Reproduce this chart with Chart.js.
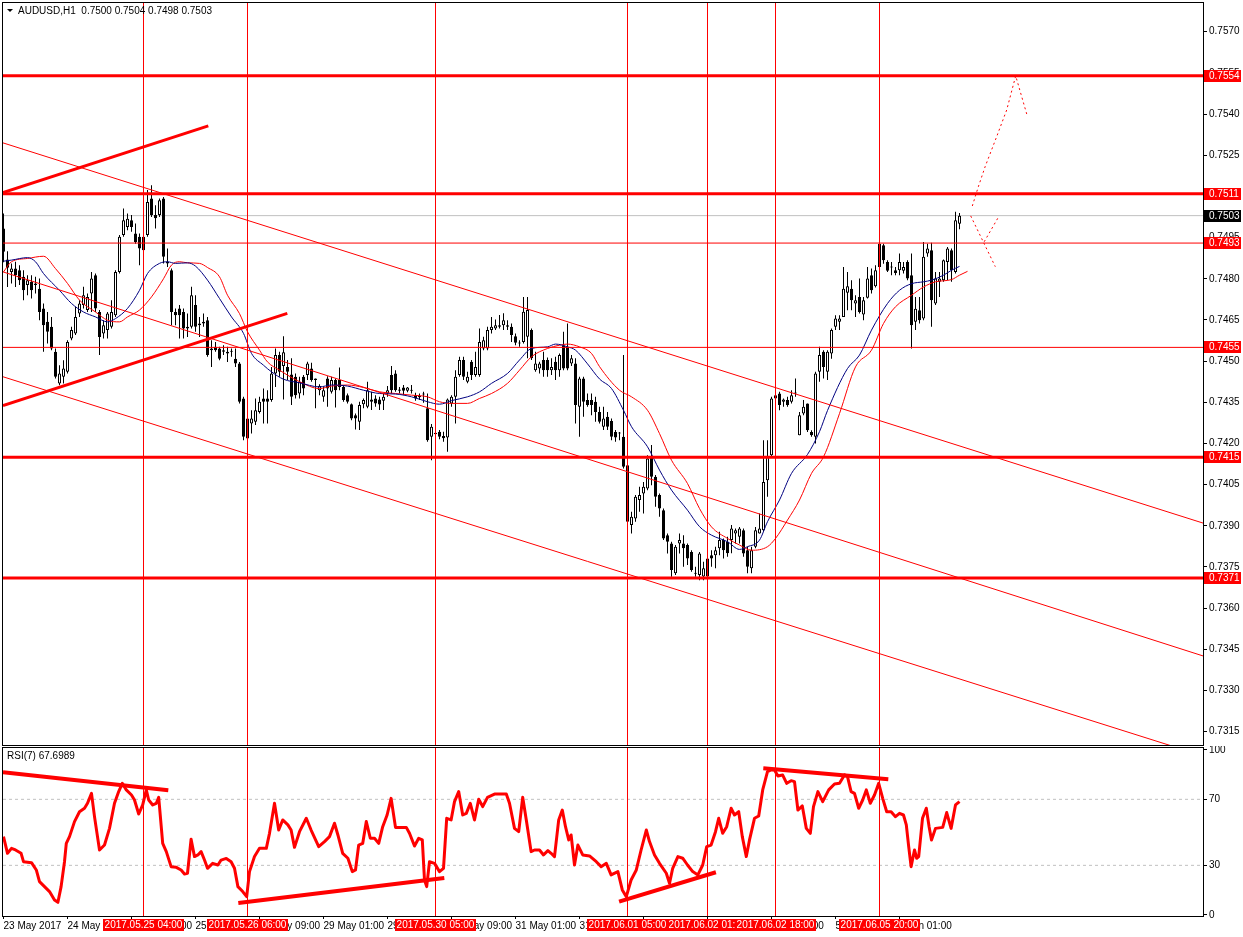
<!DOCTYPE html>
<html>
<head>
<meta charset="utf-8">
<script src="https://cdn.jsdelivr.net/npm/chart.js@4.4.1/dist/chart.umd.min.js"></script>
<style>
  body { margin: 0; background: #fff; width: 1243px; height: 937px; overflow: hidden; position: relative; }
  #mainChart { position: absolute; left: 0; top: 0; }
  #rsiChart { position: absolute; left: 0; top: 746px; }
</style>
</head>
<body>
<canvas id="mainChart" width="1243" height="746"></canvas>
<canvas id="rsiChart" width="1243" height="191"></canvas>
<script>
// AUDUSD H1 candles, bar 0 = 23 May 2017 17:00
const symbolName = 'AUDUSD,H1';
const opens = [
  0.74983,0.74870,0.74825,0.74837,0.74831,0.74807,0.74777,0.74789,0.74783,0.74764,
  0.74692,0.74643,0.74625,0.74534,0.74418,0.74443,0.74461,0.74582,0.74601,0.74673,
  0.74704,0.74686,0.74746,0.74813,0.74679,0.74601,0.74613,0.74625,0.74667,0.74825,
  0.74959,0.74989,0.75013,0.74965,0.74953,0.74953,0.74959,0.75092,0.75032,0.75032,
  0.75092,0.74862,0.74831,0.74679,0.74692,0.74679,0.74619,0.74625,0.74704,0.74637,
  0.74643,0.74649,0.74546,0.74552,0.74546,0.74540,0.74534,0.74537,0.74509,0.74491,
  0.74364,0.74291,0.74273,0.74279,0.74315,0.74364,0.74364,0.74358,0.74455,0.74522,
  0.74482,0.74479,0.74451,0.74443,0.74382,0.74443,0.74449,0.74473,0.74437,0.74394,
  0.74370,0.74437,0.74388,0.74431,0.74431,0.74406,0.74376,0.74343,0.74303,0.74279,
  0.74343,0.74334,0.74360,0.74364,0.74360,0.74356,0.74382,0.74449,0.74455,0.74397,
  0.74404,0.74392,0.74394,0.74376,0.74373,0.74378,0.74328,0.74224,0.74239,0.74243,
  0.74227,0.74222,0.74346,0.74370,0.74449,0.74504,0.74425,0.74498,0.74449,0.74449,
  0.74546,0.74546,0.74613,0.74619,0.74625,0.74631,0.74625,0.74625,0.74591,0.74566,
  0.74570,0.74589,0.74613,0.74467,0.74473,0.74504,0.74504,0.74467,0.74498,0.74467,
  0.74558,0.74552,0.74491,0.74491,0.74334,0.74437,0.74358,0.74358,0.74352,0.74315,
  0.74261,0.74297,0.74282,0.74242,0.74239,0.74224,0.74121,0.73903,0.73927,0.73994,
  0.74018,0.74036,0.74151,0.74079,0.74012,0.73957,0.73866,0.73836,0.73727,0.73836,
  0.73836,0.73830,0.73805,0.73729,0.73721,0.73715,0.73715,0.73793,0.73793,0.73818,
  0.73848,0.73842,0.73848,0.73872,0.73860,0.73884,0.73811,0.73745,0.73824,0.73872,
  0.73884,0.74066,0.74157,0.74364,0.74382,0.74352,0.74358,0.74352,0.74382,0.74230,
  0.74309,0.74346,0.74242,0.74224,0.74461,0.74534,0.74461,0.74528,0.74625,0.74643,
  0.74661,0.74749,0.74764,0.74710,0.74734,0.74670,0.74731,0.74813,0.74773,0.74843,
  0.74922,0.74861,0.74843,0.74831,0.74831,0.74829,0.74861,0.74813,0.74643,0.74685,
  0.74655,0.74892,0.74904,0.74710,0.74789,0.74795,0.74861,0.74904,0.74825,0.75000
];
const highs = [
  0.75038,0.74900,0.74856,0.74862,0.74849,0.74831,0.74813,0.74813,0.74807,0.74801,
  0.74710,0.74679,0.74661,0.74546,0.74485,0.74503,0.74576,0.74625,0.74698,0.74722,
  0.74771,0.74746,0.74825,0.74819,0.74686,0.74649,0.74679,0.74722,0.74831,0.74959,
  0.75056,0.75038,0.75032,0.75001,0.74965,0.74959,0.75123,0.75141,0.75068,0.75092,
  0.75098,0.74910,0.74837,0.74692,0.74704,0.74692,0.74673,0.74771,0.74740,0.74661,
  0.74673,0.74661,0.74576,0.74570,0.74552,0.74558,0.74552,0.74546,0.74546,0.74497,
  0.74370,0.74297,0.74321,0.74364,0.74370,0.74400,0.74394,0.74479,0.74546,0.74534,
  0.74591,0.74504,0.74510,0.74455,0.74443,0.74449,0.74498,0.74494,0.74437,0.74416,
  0.74406,0.74445,0.74443,0.74437,0.74477,0.74413,0.74382,0.74346,0.74309,0.74352,
  0.74364,0.74425,0.74388,0.74376,0.74370,0.74382,0.74409,0.74482,0.74467,0.74406,
  0.74413,0.74406,0.74413,0.74385,0.74382,0.74388,0.74382,0.74271,0.74249,0.74249,
  0.74243,0.74364,0.74376,0.74467,0.74516,0.74516,0.74461,0.74504,0.74534,0.74619,
  0.74589,0.74625,0.74661,0.74652,0.74668,0.74674,0.74649,0.74637,0.74601,0.74576,
  0.74734,0.74734,0.74619,0.74534,0.74498,0.74534,0.74513,0.74510,0.74516,0.74528,
  0.74607,0.74637,0.74522,0.74510,0.74443,0.74443,0.74382,0.74382,0.74370,0.74334,
  0.74334,0.74315,0.74291,0.74249,0.74242,0.74522,0.74127,0.73951,0.74012,0.74042,
  0.74060,0.74157,0.74194,0.74085,0.74018,0.73963,0.73872,0.73842,0.73830,0.73872,
  0.73866,0.73836,0.73811,0.73751,0.73805,0.73769,0.73787,0.73811,0.73824,0.73878,
  0.73854,0.73860,0.73903,0.73890,0.73896,0.73890,0.73824,0.73824,0.73896,0.73945,
  0.74212,0.74212,0.74370,0.74382,0.74388,0.74364,0.74370,0.74394,0.74437,0.74315,
  0.74358,0.74346,0.74248,0.74461,0.74552,0.74540,0.74540,0.74619,0.74667,0.74667,
  0.74843,0.74825,0.74795,0.74740,0.74801,0.74734,0.74843,0.74837,0.74849,0.74934,
  0.74928,0.74867,0.74861,0.74843,0.74892,0.74861,0.74867,0.74892,0.74734,0.74734,
  0.74934,0.74928,0.74931,0.74825,0.74825,0.74870,0.74916,0.74910,0.75044,0.75040
];
const lows = [
  0.74860,0.74770,0.74783,0.74770,0.74777,0.74722,0.74740,0.74728,0.74746,0.74649,
  0.74534,0.74564,0.74540,0.74437,0.74412,0.74418,0.74455,0.74576,0.74595,0.74661,
  0.74692,0.74679,0.74679,0.74679,0.74522,0.74582,0.74582,0.74619,0.74661,0.74819,
  0.74953,0.74977,0.74971,0.74928,0.74849,0.74898,0.74953,0.75025,0.74983,0.75025,
  0.74856,0.74843,0.74631,0.74631,0.74582,0.74582,0.74588,0.74619,0.74607,0.74588,
  0.74625,0.74516,0.74479,0.74534,0.74503,0.74522,0.74497,0.74516,0.74479,0.74346,
  0.74212,0.74206,0.74236,0.74267,0.74309,0.74273,0.74273,0.74352,0.74406,0.74443,
  0.74360,0.74431,0.74340,0.74364,0.74364,0.74376,0.74431,0.74425,0.74328,0.74376,
  0.74352,0.74334,0.74382,0.74331,0.74394,0.74352,0.74346,0.74285,0.74251,0.74249,
  0.74328,0.74328,0.74322,0.74334,0.74322,0.74322,0.74370,0.74382,0.74388,0.74382,
  0.74376,0.74387,0.74382,0.74356,0.74358,0.74348,0.74206,0.74139,0.74215,0.74215,
  0.74206,0.74170,0.74334,0.74273,0.74443,0.74431,0.74419,0.74431,0.74443,0.74443,
  0.74540,0.74540,0.74601,0.74613,0.74619,0.74613,0.74613,0.74570,0.74558,0.74552,
  0.74564,0.74510,0.74504,0.74461,0.74455,0.74443,0.74443,0.74449,0.74431,0.74443,
  0.74467,0.74467,0.74482,0.74273,0.74224,0.74297,0.74334,0.74303,0.74279,0.74273,
  0.74249,0.74249,0.74212,0.74206,0.74212,0.74109,0.73872,0.73872,0.73915,0.73951,
  0.73945,0.74030,0.74048,0.73969,0.73933,0.73848,0.73799,0.73714,0.73721,0.73799,
  0.73751,0.73757,0.73733,0.73714,0.73702,0.73702,0.73708,0.73751,0.73745,0.73793,
  0.73781,0.73787,0.73800,0.73836,0.73836,0.73787,0.73727,0.73727,0.73818,0.73872,
  0.73878,0.74006,0.74151,0.74358,0.74321,0.74334,0.74334,0.74346,0.74370,0.74230,
  0.74303,0.74242,0.74224,0.74200,0.74425,0.74437,0.74431,0.74509,0.74613,0.74613,
  0.74661,0.74685,0.74685,0.74661,0.74673,0.74649,0.74728,0.74746,0.74768,0.74837,
  0.74855,0.74825,0.74813,0.74813,0.74813,0.74819,0.74795,0.74546,0.74613,0.74637,
  0.74649,0.74880,0.74625,0.74704,0.74734,0.74789,0.74795,0.74789,0.74819,0.74980
];
const closes = [
  0.74898,0.74840,0.74837,0.74813,0.74795,0.74758,0.74795,0.74758,0.74777,0.74679,
  0.74631,0.74607,0.74546,0.74443,0.74455,0.74473,0.74570,0.74613,0.74661,0.74710,
  0.74740,0.74734,0.74801,0.74692,0.74588,0.74631,0.74673,0.74679,0.74825,0.74953,
  0.75013,0.75019,0.74989,0.74934,0.74910,0.74904,0.75080,0.75032,0.75020,0.75086,
  0.74880,0.74856,0.74679,0.74667,0.74667,0.74619,0.74625,0.74740,0.74625,0.74631,
  0.74637,0.74522,0.74540,0.74540,0.74509,0.74534,0.74528,0.74534,0.74491,0.74352,
  0.74224,0.74218,0.74291,0.74321,0.74352,0.74352,0.74352,0.74455,0.74522,0.74461,
  0.74532,0.74461,0.74370,0.74376,0.74425,0.74400,0.74491,0.74431,0.74431,0.74409,
  0.74394,0.74400,0.74431,0.74394,0.74406,0.74358,0.74352,0.74291,0.74291,0.74340,
  0.74358,0.74394,0.74352,0.74346,0.74342,0.74370,0.74394,0.74394,0.74394,0.74392,
  0.74392,0.74404,0.74392,0.74364,0.74368,0.74382,0.74212,0.74261,0.74234,0.74224,
  0.74219,0.74360,0.74370,0.74443,0.74504,0.74443,0.74443,0.74449,0.74479,0.74570,
  0.74576,0.74613,0.74625,0.74631,0.74631,0.74649,0.74631,0.74595,0.74567,0.74564,
  0.74680,0.74686,0.74510,0.74491,0.74491,0.74467,0.74467,0.74479,0.74467,0.74522,
  0.74473,0.74473,0.74510,0.74340,0.74437,0.74352,0.74340,0.74340,0.74315,0.74279,
  0.74291,0.74261,0.74224,0.74222,0.74236,0.74115,0.73915,0.73933,0.74006,0.74012,
  0.74042,0.74145,0.74079,0.74006,0.73963,0.73854,0.73842,0.73739,0.73824,0.73848,
  0.73818,0.73781,0.73739,0.73725,0.73799,0.73745,0.73781,0.73781,0.73811,0.73848,
  0.73811,0.73800,0.73890,0.73884,0.73890,0.73799,0.73751,0.73811,0.73884,0.73890,
  0.74060,0.74151,0.74364,0.74376,0.74340,0.74360,0.74340,0.74376,0.74384,0.74303,
  0.74334,0.74248,0.74230,0.74455,0.74522,0.74479,0.74534,0.74613,0.74655,0.74655,
  0.74764,0.74773,0.74722,0.74722,0.74679,0.74722,0.74801,0.74758,0.74831,0.74928,
  0.74867,0.74829,0.74841,0.74821,0.74861,0.74843,0.74801,0.74631,0.74691,0.74649,
  0.74880,0.74910,0.74722,0.74801,0.74801,0.74867,0.74910,0.74831,0.75013,0.75030
];

// moving averages: [bar, price]
const maFast = [
  [0,0.74864],[2,0.74868],[6,0.74877],[8,0.74862],[10,0.74819],[14,0.74758],[17,0.74710],[20,0.74679],[23,0.74661],[26,0.74643],
  [28,0.74655],[31,0.74692],[34,0.74758],[36,0.74819],[39,0.74856],[41,0.74862],[43,0.74856],[46,0.74858],[48,0.74846],[51,0.74795],
  [54,0.74728],[57,0.74661],[60,0.74601],[62,0.74528],[65,0.74485],[67,0.74461],[70,0.74434],[74,0.74421],[79,0.74406],[82,0.74413],
  [86,0.74409],[90,0.74394],[94,0.74382],[98,0.74380],[102,0.74370],[106,0.74352],[109,0.74343],[112,0.74356],[116,0.74370],[119,0.74388],
  [122,0.74419],[126,0.74455],[129,0.74504],[132,0.74546],[136,0.74552],[138,0.74562],[141,0.74552],[143,0.74540],[146,0.74490],[149,0.74435],
  [152,0.74400],[155,0.74321],[157,0.74261],[161,0.74188],[164,0.74103],[167,0.74030],[171,0.73957],[174,0.73897],[177,0.73866],[181,0.73842],
  [184,0.73814],[186,0.73824],[189,0.73848],[191,0.73915],[194,0.73994],[197,0.74091],[201,0.74160],[204,0.74243],[206,0.74320],[211,0.74473],
  [214,0.74522],[217,0.74613],[221,0.74710],[224,0.74758],[227,0.74782],[230,0.74789],[232,0.74795],[235,0.74813],[237,0.74831],[239,0.74845]
];
const maSlow = [
  [0,0.74825],[2,0.74862],[6,0.74874],[10,0.74882],[13,0.74837],[16,0.74783],[19,0.74722],[23,0.74679],[26,0.74649],[29,0.74643],
  [31,0.74661],[34,0.74686],[37,0.74734],[40,0.74800],[42,0.74850],[44,0.74862],[46,0.74858],[49,0.74856],[51,0.74841],[54,0.74807],
  [56,0.74740],[59,0.74673],[61,0.74607],[64,0.74540],[66,0.74497],[69,0.74467],[71,0.74449],[74,0.74425],[79,0.74400],[82,0.74409],
  [86,0.74413],[90,0.74404],[94,0.74388],[98,0.74382],[102,0.74376],[106,0.74370],[109,0.74352],[112,0.74346],[116,0.74346],[119,0.74364],
  [122,0.74382],[126,0.74419],[129,0.74467],[132,0.74516],[136,0.74546],[139,0.74558],[141,0.74562],[144,0.74552],[147,0.74528],[149,0.74480],
  [154,0.74394],[157,0.74370],[161,0.74321],[164,0.74236],[167,0.74139],[171,0.74054],[174,0.73963],[177,0.73896],[181,0.73854],[184,0.73830],
  [187,0.73811],[191,0.73824],[193,0.73854],[196,0.73921],[199,0.73994],[202,0.74091],[205,0.74151],[209,0.74309],[213,0.74479],[217,0.74540],
  [220,0.74637],[223,0.74698],[227,0.74740],[230,0.74770],[233,0.74789],[237,0.74797],[239,0.74813],[241,0.74827]
];

// RSI(7) line: [bar, value]
const rsiCurrent = 67.6989;
const rsiLine = [
  [0,47.4],[1,37.3],[2,40.3],[3,39.3],[4.4,37.3],[5,32.2],[7,31.6],[8.2,27.2],[9,20.1],[10.25,17.1],
  [11.5,14.1],[12.75,9.0],[13.6,7.6],[14.4,17.1],[15.25,32.2],[15.7,43.3],[16.5,47.4],[17.75,56.5],[19,62.5],[20.25,64.6],
  [21,67.6],[22,73.6],[22.75,59.5],[24,39.3],[25.25,42.3],[26.5,52.4],[27.75,67.6],[28.8,74.7],[29.7,79.7],[30.7,75.7],
  [32,72.6],[32.75,69.6],[33.8,61.1],[34.8,66.6],[35.7,75.7],[36.3,69.6],[37.3,66.6],[38.2,67.6],[38.8,71.2],[39.8,43.3],
  [40.7,38.3],[41.9,29.2],[43.2,28.8],[44.4,27.2],[45.25,24.8],[46,25.2],[46.9,45.8],[47.75,35.3],[48.6,36.3],[49.4,38.3],
  [50.25,33.2],[51,28.2],[52.3,31.2],[53.6,30.2],[54.4,33.2],[55.7,34.2],[56.9,32.2],[57.75,28.2],[58.6,17.1],[59.8,14.1],
  [60.8,11.0],[61.5,26.2],[62.75,35.3],[64,40.3],[65.7,40.3],[66.5,49.4],[67.75,67.6],[68.8,51.4],[69.8,57.5],[71.1,54.5],
  [71.9,51.4],[72.75,40.9],[74,50.4],[75.7,58.5],[76.9,51.4],[78.8,41.3],[80.25,44.4],[81.5,47.4],[82.75,55.5],[83.6,48.4],
  [84.8,37.3],[86.1,34.3],[87.2,26.2],[88,27.2],[88.8,42.3],[89.8,43.3],[90.7,56.5],[91.7,46.4],[92.75,46.4],[93.8,43.3],
  [94.8,53.4],[95.9,60.5],[96.9,70.6],[98,53.0],[99,53.0],[100.7,53.0],[101.5,49.4],[102.75,41.7],[103.8,46.4],[104.7,45.4],
  [105.25,21.1],[105.8,17.1],[106.5,32.2],[107.75,31.2],[109,26.2],[110,28.2],[110.8,58.5],[111.9,57.5],[112.75,68.6],[113.8,74.7],
  [114.8,60.5],[115.7,61.5],[116.7,67.6],[117.75,57.5],[118.8,70.0],[119.8,65.6],[121,71.2],[122.75,73.2],[125.7,73.2],[126.5,67.6],
  [127.75,52.4],[128.8,50.4],[129.8,71.2],[130.7,57.5],[131.9,38.3],[132.75,39.3],[134,39.3],[135,36.3],[136.1,38.9],[136.9,37.3],
  [137.75,35.3],[138.8,57.5],[139.7,63.5],[140.5,53.4],[141.3,45.4],[141.9,48.4],[142.75,30.2],[143.6,42.3],[144.8,36.3],[146.5,35.7],
  [148.2,32.2],[149.4,29.2],[150.7,31.2],[151.9,24.2],[153.6,26.2],[154.7,15.1],[155.7,11.0],[156.9,21.1],[158.2,27.2],[159.4,39.3],
  [160.7,51.4],[161.5,44.4],[162.75,36.3],[164,31.2],[165.7,25.2],[166.5,19.1],[167.3,28.2],[168.6,35.3],[169.8,34.3],[171,30.2],
  [172.3,26.2],[173.6,24.2],[174.8,30.2],[175.8,41.3],[176.9,42.3],[178,50.4],[178.8,58.5],[179.8,49.4],[180.8,53.4],[181.9,64.6],
  [182.75,60.5],[183.8,62.5],[184.7,47.4],[185.7,35.3],[186.5,45.4],[187.75,58.5],[188.8,59.9],[189.8,75.7],[191,86.8],[191.9,87.8],
  [192.75,87.8],[193.6,84.1],[194.8,84.7],[195.8,79.7],[196.9,81.3],[197.75,80.7],[198.6,63.5],[199.7,66.0],[200.7,52.4],[201.7,49.4],
  [202.5,65.6],[203.6,74.7],[204.8,68.6],[206.3,75.7],[207.75,79.3],[209,79.7],[210.25,84.8],[211,83.7],[211.9,74.7],[212.75,73.6],
  [213.8,64.6],[214.8,69.6],[215.7,75.7],[216.7,67.6],[217.75,72.6],[218.8,79.7],[219.8,70.6],[220.8,62.5],[221.9,62.5],[223,59.5],
  [224,61.5],[225,60.5],[225.7,54.5],[226.3,41.3],[226.9,29.2],[227.75,39.3],[228.3,34.3],[228.8,35.3],[229.75,58.5],[230.7,64.6],
  [231.4,53.4],[232,45.4],[233,52.4],[234.8,53.0],[235.8,62.0],[236.9,52.4],[238,66.6],[239,68.6]
];
const rsiLevels = [70, 30];
const rsiTicks = [0, 30, 70, 100];

// horizontal price levels
const thickLevels = [0.7554, 0.7511, 0.7415, 0.7371];
const thinLevels = [0.7493, 0.7455];
const currentPrice = 0.7503;
const priceTicks = [0.7315,0.7330,0.7345,0.7360,0.7375,0.7390,0.7405,0.7420,0.7435,0.7450,
                    0.7465,0.7480,0.7495,0.7510,0.7525,0.7540,0.7555,0.7570];

// drawn trend lines: [bar, price]
const channelLines = [
  [[-0.125,0.75295],[299.875,0.73910]],
  [[-0.125,0.74825],[299.875,0.73426]],
  [[-0.125,0.74443],[299.875,0.73062]]
];
const thickTrends = [
  [[-0.125,0.75114],[51.2,0.75357]],
  [[-0.125,0.74338],[70.95,0.74674]]
];
const projections = [
  [[242.2,0.75065],[243.7,0.75135],[245.4,0.75208],[248.3,0.75318],[250.8,0.75415],[253.05,0.75539],[255.95,0.75393]],
  [[241.8,0.75029],[247.95,0.74844]],
  [[248.55,0.75020],[244.95,0.74929]]
];
const rsiTrends = [
  [[-0.125,86.4],[41.2,75.5]],
  [[58.7,7.2],[110.2,22.3]],
  [[153.9,8.0],[178.1,25.8]],
  [[189.95,88.8],[221.2,82.1]]
];

// vertical event lines and time axis
const markerBars = [35, 61, 108, 156, 176, 193, 219];
const markerLabels = ['2017.05.25 04:00','2017.05.26 06:00','2017.05.30 05:00','2017.06.01 05:00',
                      '2017.06.02 01:00','2017.06.02 18:00','2017.06.05 20:00'];
const timeBars = [0,16,32,48,64,80,96,112,128,144,160,176,192,208,224];
const timeLabels = ['23 May 2017','24 May 09:00','25 May 01:00','25 May 17:00','26 May 09:00','29 May 01:00',
                    '29 May 17:00','30 May 09:00','31 May 01:00','31 May 17:00','1 Jun 09:00','2 Jun 01:00',
                    '2 Jun 17:00','5 Jun 09:00','6 Jun 01:00'];

const FONT = '"Liberation Sans", Arial, sans-serif';
Chart.defaults.font.family = FONT;
Chart.defaults.font.size = 10;
Chart.defaults.color = '#000';

const X_MIN = -0.125, X_MAX = 299.875;
const PRICE_MIN = 0.731015, PRICE_MAX = 0.758046;
const RSI_MIN = -0.7, RSI_MAX = 101.1;
const RED = '#ff0000';

function lineSet(points, color, width, extra) {
  return Object.assign({
    type: 'line',
    data: points.map(p => ({ x: p[0], y: p[1] })),
    borderColor: color, borderWidth: width, pointRadius: 0,
    fill: false, tension: 0, order: 1
  }, extra || {});
}

const framePlugin = {
  id: 'frame',
  afterDraw(chart) {
    const { ctx, chartArea: a } = chart;
    ctx.save();
    ctx.strokeStyle = '#000';
    ctx.lineWidth = 1;
    ctx.strokeRect(a.left - 0.5, a.top - 0.5, a.right - a.left + 1, a.bottom - a.top + 1);
    ctx.restore();
  }
};

const mainLabels = {
  id: 'mainLabels',
  afterDraw(chart) {
    const { ctx, chartArea: a, scales: { y } } = chart;
    const last = opens.length - 1;
    ctx.save();
    ctx.font = '10px ' + FONT;
    ctx.textBaseline = 'middle';
    // header
    ctx.fillStyle = '#000';
    ctx.beginPath();
    ctx.moveTo(a.left + 4, a.top + 6); ctx.lineTo(a.left + 10, a.top + 6); ctx.lineTo(a.left + 7, a.top + 9);
    ctx.closePath(); ctx.fill();
    const ohlc = [opens[last], highs[last], lows[last], closes[last]].map(v => v.toFixed(4)).join(' ');
    ctx.fillText(symbolName + '  ' + ohlc, a.left + 15, a.top + 8);
    // price tags on the axis
    const tags = thickLevels.concat(thinLevels).map(v => [v, RED]).concat([[currentPrice, '#000']]);
    tags.forEach(([v, col]) => {
      const py = Math.round(y.getPixelForValue(v));
      ctx.fillStyle = col;
      ctx.fillRect(a.right + 1, py - 6, 37, 12);
      ctx.fillStyle = '#fff';
      ctx.fillText(v.toFixed(4), a.right + 6, py + 0.5);
    });
    ctx.restore();
  }
};

const idx = opens.map((_, i) => i);
const mainSets = [
  { type: 'bar', data: idx.map(i => ({ x: i, y: [lows[i], highs[i]] })), backgroundColor: '#000',
    borderWidth: 0, barThickness: 1, grouped: false, inflateAmount: 0, order: 21 },
  { type: 'bar', data: idx.map(i => ({ x: i, y: [opens[i], closes[i]] })),
    backgroundColor: idx.map(i => closes[i] >= opens[i] ? '#fff' : '#000'),
    borderColor: '#000', borderWidth: 1, borderSkipped: false, barThickness: 3, minBarLength: 1,
    grouped: false, inflateAmount: 0, order: 20 },
  lineSet(maFast, '#000080', 1, { cubicInterpolationMode: 'monotone', order: 6 }),
  lineSet(maSlow, RED, 1, { cubicInterpolationMode: 'monotone', order: 6 }),
  lineSet([[X_MIN, currentPrice], [X_MAX, currentPrice]], '#c0c0c0', 1, { order: 30 })
];
thickLevels.forEach(v => mainSets.push(lineSet([[X_MIN, v], [X_MAX, v]], RED, 3)));
thinLevels.forEach(v => mainSets.push(lineSet([[X_MIN, v], [X_MAX, v]], RED, 1)));
channelLines.forEach(l => mainSets.push(lineSet(l, RED, 1)));
thickTrends.forEach(l => mainSets.push(lineSet(l, RED, 3)));
projections.forEach(l => mainSets.push(lineSet(l, RED, 1, { borderDash: [2, 3] })));
markerBars.forEach(b => mainSets.push(lineSet([[b, PRICE_MIN], [b, PRICE_MAX]], RED, 1, { order: 2 })));

new Chart(document.getElementById('mainChart'), {
  type: 'bar',
  data: { datasets: mainSets },
  options: {
    responsive: false, animation: false, devicePixelRatio: 1, events: [],
    layout: { padding: { left: 3, top: 3, right: 0, bottom: 1 } },
    plugins: { legend: { display: false }, tooltip: { enabled: false } },
    scales: {
      x: { type: 'linear', min: X_MIN, max: X_MAX, offset: false, display: false, grid: { offset: false } },
      y: {
        type: 'linear', position: 'right', min: PRICE_MIN, max: PRICE_MAX,
        afterBuildTicks: s => { s.ticks = priceTicks.map(v => ({ value: v })); },
        afterFit: s => { s.width = 40; s.paddingTop = 0; s.paddingBottom = 0; },
        grid: { drawOnChartArea: false, drawTicks: true, tickLength: 4, color: '#000' },
        border: { display: false },
        ticks: { autoSkip: false, padding: 2, color: '#000', callback: v => Number(v).toFixed(4) }
      }
    }
  },
  plugins: [framePlugin, mainLabels]
});

const rsiLabels = {
  id: 'rsiLabels',
  afterDraw(chart) {
    const { ctx, chartArea: a, scales: { x } } = chart;
    ctx.save();
    ctx.font = '10px ' + FONT;
    ctx.textBaseline = 'middle';
    ctx.fillStyle = '#000';
    ctx.fillText('RSI(7) ' + rsiCurrent.toFixed(4), a.left + 4, a.top + 8);
    ctx.textAlign = 'center';
    markerBars.forEach((b, k) => {
      const px = x.getPixelForValue(b);
      const w = Math.round(ctx.measureText(markerLabels[k]).width + 3);
      ctx.fillStyle = RED;
      ctx.fillRect(Math.round(px - w / 2), a.bottom + 3, w, 12);
      ctx.fillStyle = '#fff';
      ctx.fillText(markerLabels[k], px, a.bottom + 9.5);
    });
    ctx.restore();
  }
};

const rsiSets = [
  lineSet(rsiLine, RED, 3, { order: 3, borderJoinStyle: 'round' })
];
rsiLevels.forEach(v => rsiSets.push(lineSet([[X_MIN, v], [X_MAX, v]], '#c0c0c0', 1, { borderDash: [3, 3], order: 10 })));
rsiTrends.forEach(l => rsiSets.push(lineSet(l, RED, 4, { order: 2 })));
markerBars.forEach(b => rsiSets.push(lineSet([[b, RSI_MIN], [b, RSI_MAX]], RED, 1, { order: 4 })));

new Chart(document.getElementById('rsiChart'), {
  type: 'line',
  data: { datasets: rsiSets },
  options: {
    responsive: false, animation: false, devicePixelRatio: 1, events: [],
    layout: { padding: { left: 3, top: 2, right: 0, bottom: 0 } },
    plugins: { legend: { display: false }, tooltip: { enabled: false } },
    scales: {
      x: {
        type: 'linear', position: 'bottom', min: X_MIN, max: X_MAX, offset: false,
        afterBuildTicks: s => { s.ticks = timeBars.map(v => ({ value: v })); },
        afterFit: s => { s.height = 21; s.paddingLeft = 0; s.paddingRight = 0; },
        grid: { drawOnChartArea: false, drawTicks: true, tickLength: 3, color: '#000', offset: false },
        border: { display: false },
        ticks: { autoSkip: false, maxRotation: 0, align: 'start', padding: 1, color: '#000',
                 callback: (v, i) => timeLabels[i] }
      },
      y: {
        type: 'linear', position: 'right', min: RSI_MIN, max: RSI_MAX,
        afterBuildTicks: s => { s.ticks = rsiTicks.map(v => ({ value: v })); },
        afterFit: s => { s.width = 40; s.paddingTop = 0; s.paddingBottom = 0; },
        grid: { drawOnChartArea: false, drawTicks: true, tickLength: 4, color: '#000' },
        border: { display: false },
        ticks: { autoSkip: false, padding: 2, color: '#000', callback: v => String(v) }
      }
    }
  },
  plugins: [framePlugin, rsiLabels]
});
</script>
</body>
</html>
